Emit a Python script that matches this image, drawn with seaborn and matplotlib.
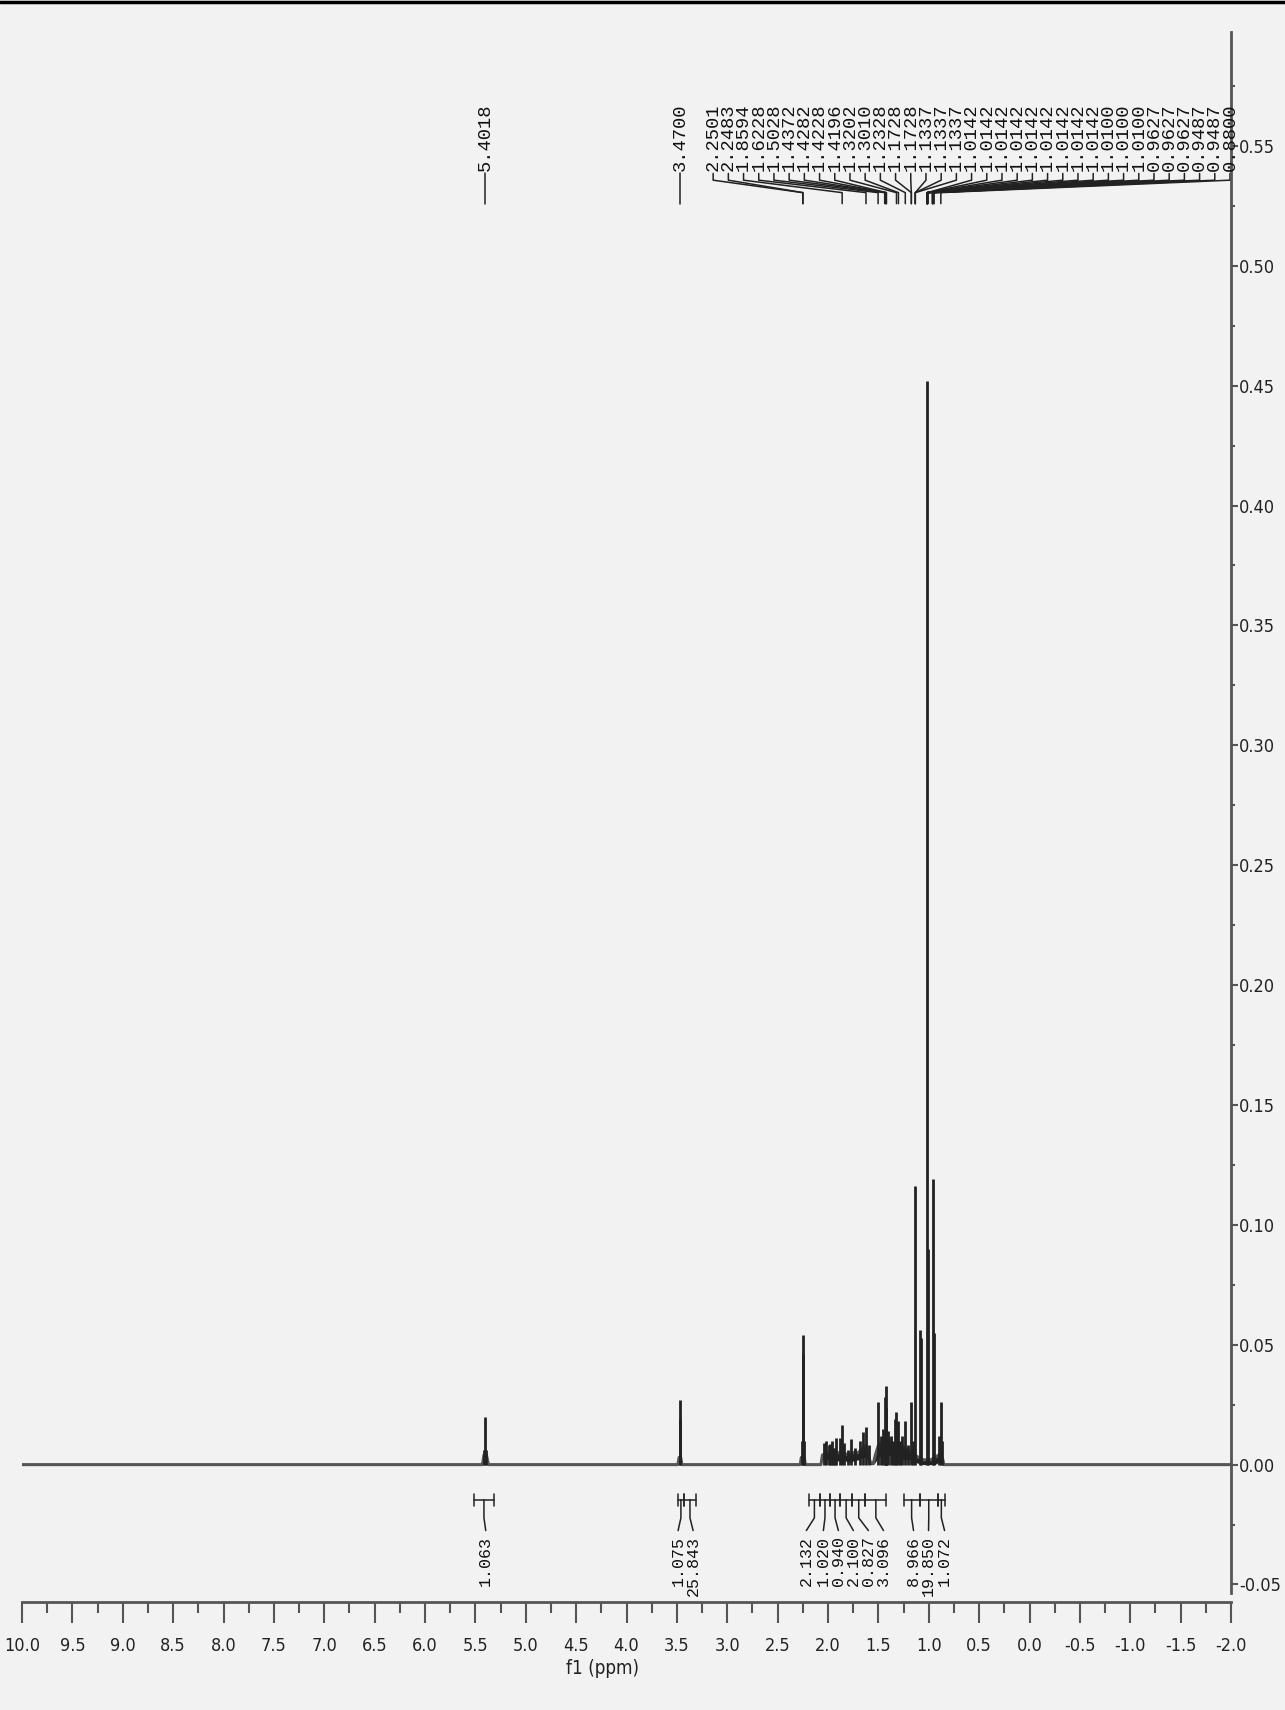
import matplotlib
matplotlib.use("Agg")
import numpy as np
import pandas as pd
import matplotlib.pyplot as plt
import seaborn as sns
from matplotlib.lines import Line2D
from matplotlib.ticker import MultipleLocator, FormatStrFormatter

# ---- spectrum: peak sticks (ppm, intensity) ----
peak_ppm = [5.414, 5.4018, 5.390, 3.4700, 3.466, 2.262, 2.2501, 2.2483, 2.238,
            2.040, 2.017, 1.995, 1.984, 1.962, 1.950, 1.930, 1.917, 1.884, 1.8594,
            1.840, 1.801, 1.768, 1.728, 1.685, 1.652, 1.6228, 1.596,
            1.5028, 1.477, 1.453, 1.4372, 1.4282, 1.4228, 1.4196, 1.403, 1.377,
            1.354, 1.335, 1.3202, 1.3010, 1.288, 1.264, 1.2328, 1.204, 1.1728,
            1.154, 1.1337, 1.088, 1.080, 1.0142, 1.0100, 0.9627, 0.9487, 0.895,
            0.8800, 0.868]
peak_height = [0.006, 0.020, 0.006, 0.027, 0.019, 0.010, 0.054, 0.046, 0.010,
               0.009, 0.010, 0.008, 0.0085, 0.010, 0.007, 0.007, 0.011, 0.011, 0.0167,
               0.009, 0.006, 0.0105, 0.007, 0.010, 0.0135, 0.0155, 0.008,
               0.026, 0.012, 0.015, 0.028, 0.0326, 0.024, 0.020, 0.014, 0.012,
               0.010, 0.019, 0.022, 0.018, 0.010, 0.012, 0.018, 0.008, 0.026,
               0.010, 0.116, 0.056, 0.053, 0.452, 0.090, 0.119, 0.055, 0.012,
               0.026, 0.010]

# ---- baseline trace with the overlapped multiplet hump ----
env_ppm = [10.0, 5.43, 5.415, 5.39, 5.37, 3.49, 3.478, 3.462, 3.45, 2.275, 2.265,
           2.235, 2.225, 2.07, 2.055, 2.00, 1.95, 1.90, 1.85, 1.80, 1.75, 1.70,
           1.65, 1.62, 1.60, 1.58, 1.55, 1.53, 1.50, 1.45, 1.40, 1.35, 1.30, 1.25,
           1.20, 1.16, 1.14, 1.10, 1.05, 0.98, 0.94, 0.90, 0.88, 0.86, 0.85, -2.0]
env_hi = [0, 0, 0.004, 0.004, 0, 0, 0.003, 0.003, 0, 0, 0.003, 0.003, 0,
          0, 0.004, 0.005, 0.004, 0.005, 0.005, 0.004, 0.005, 0.005, 0.007, 0.008,
          0.004, 0.001, 0.0005, 0.004, 0.008, 0.010, 0.011, 0.008, 0.009, 0.007,
          0.006, 0.005, 0.004, 0.003, 0.002, 0.002, 0.003, 0.004, 0.005, 0.002, 0, 0]
env_lo = [0, 0, 0.001, 0.001, 0, 0, 0.001, 0.001, 0, 0, 0.001, 0.001, 0,
          0, 0.002, 0.002, 0.002, 0.0015, 0.002, 0.001, 0.0015, 0.002, 0.003, 0.003,
          0.001, 0, 0, 0.001, 0.003, 0.004, 0.004, 0.003, 0.003, 0.002,
          0.002, 0.002, 0.001, 0.0005, 0, 0, 0, 0.001, 0.001, 0, 0, 0]

# ---- peak picking labels ----
single_labels = [5.4018, 3.4700]
multi_labels = ([2.2501, 2.2483, 1.8594, 1.6228, 1.5028, 1.4372, 1.4282, 1.4228,
                 1.4196, 1.3202, 1.3010, 1.2328, 1.1728, 1.1728, 1.1337, 1.1337,
                 1.1337] + [1.0142] * 9 + [1.0100] * 3 + [0.9627] * 3
                + [0.9487] * 2 + [0.8800])

# ---- integrals ----
int_start = [5.51, 3.49, 3.43, 2.19, 2.08, 1.98, 1.88, 1.76, 1.63, 1.25, 1.09, 0.91]
int_end = [5.32, 3.43, 3.31, 2.08, 1.98, 1.88, 1.76, 1.63, 1.42, 1.09, 0.91, 0.84]
int_value = ['1.063', '1.075', '25.843', '2.132', '1.020', '0.940', '2.100',
             '0.827', '3.096', '8.966', '19.850', '1.072']
int_label_ppm = [5.397, 3.488, 3.339, 2.215, 2.046, 1.897, 1.748, 1.599, 1.449,
                 1.151, 1.002, 0.843]

sns.set_theme(style="white")
plt.rcParams['font.family'] = ['Liberation Sans Narrow', 'DejaVu Sans']
plt.rcParams['font.stretch'] = 'condensed'
bg = '#f2f2f2'
ink = '#222222'
axis_col = '#555555'

fig = plt.figure(figsize=(12.85, 17.1), dpi=100, facecolor=bg)
ax = fig.add_axes([22 / 1285, 108 / 1710, 1209 / 1285, 1570 / 1710])
ax.set_facecolor(bg)

# spectrum
ax.fill_between(env_ppm, env_lo, env_hi, color=ink, lw=0)
sns.lineplot(x=env_ppm, y=env_hi, sort=False, estimator=None, color='#555555',
             lw=2.2, ax=ax)
ax.vlines(peak_ppm, 0, peak_height, color=ink, lw=2)

# peak labels on top
mono = ['Liberation Mono', 'DejaVu Sans Mono']
y_txt, y_a, y_b, y_c, y_d = 0.5395, 0.5385, 0.5357, 0.5305, 0.5259
for p in single_labels:
    ax.plot([p, p], [y_a, y_d], color=ink, lw=1.1)
    ax.text(p, y_txt, f'{p:.4f}', rotation=90, ha='center', va='bottom',
            fontsize=13.5, family=mono, color='#111111')
label_pos = np.linspace(3.140, -1.990, len(multi_labels))
for lx, p in zip(label_pos, multi_labels):
    ax.plot([lx, lx, p, p], [y_a, y_b, y_c, y_d], color=ink, lw=1.1)
    ax.text(lx, y_txt, f'{p:.4f}', rotation=90, ha='center', va='bottom',
            fontsize=13.5, family=mono, color='#111111')

# integrals below the baseline
yi, yi_hi, yi_lo, yi_c, yi_lab = -0.0146, -0.0121, -0.0171, -0.0222, -0.0285
for s, e, v, lx in zip(int_start, int_end, int_value, int_label_ppm):
    mid = (s + e) / 2
    ax.plot([s, e], [yi, yi], color=ink, lw=1.1)
    ax.plot([s, s], [yi_hi, yi_lo], color=ink, lw=1.1)
    ax.plot([e, e], [yi_hi, yi_lo], color=ink, lw=1.1)
    ax.plot([mid, mid, lx], [yi, yi_c, yi_lab + 0.001], color=ink, lw=1.1)
    ax.text(lx, yi_lab - 0.0012, v, rotation=90, ha='center', va='top',
            fontsize=12, family=mono, color='#111111')

# axes styling
ax.set_xlim(10, -2)
ax.set_ylim(-0.0573, 0.5975)
for side in ['left', 'top']:
    ax.spines[side].set_visible(False)
for side in ['right', 'bottom']:
    ax.spines[side].set_color(axis_col)
    ax.spines[side].set_linewidth(2)
ax.spines['right'].set_bounds(-0.0535, 0.5975)

ax.xaxis.set_major_locator(MultipleLocator(0.5))
ax.xaxis.set_minor_locator(MultipleLocator(0.25))
ax.xaxis.set_major_formatter(FormatStrFormatter('%.1f'))
ax.yaxis.set_major_locator(MultipleLocator(0.05))
ax.yaxis.set_minor_locator(MultipleLocator(0.025))
ax.yaxis.set_major_formatter(FormatStrFormatter('%.2f'))
ax.yaxis.tick_right()
ax.tick_params(axis='x', which='major', length=15, width=1.5, color=axis_col,
               labelsize=13, labelcolor=ink, pad=10, bottom=True)
ax.tick_params(axis='x', which='minor', length=8, width=1.5, color=axis_col, bottom=True)
ax.tick_params(axis='y', which='major', length=5, width=1.5, color=axis_col,
               labelsize=13, labelcolor=ink, pad=1, right=True, left=False)
ax.tick_params(axis='y', which='minor', length=3, width=1.5, color=axis_col,
               right=True, left=False)

ax.set_xlabel('f1 (ppm)', fontsize=13.5, color=ink)
ax.xaxis.set_label_coords(0.48, -0.036)

fig.add_artist(Line2D([0, 1], [1 - 2.5 / 1710] * 2, color='black', lw=2.5,
                      transform=fig.transFigure))

fig.savefig('out.png', dpi=100, facecolor=bg)
